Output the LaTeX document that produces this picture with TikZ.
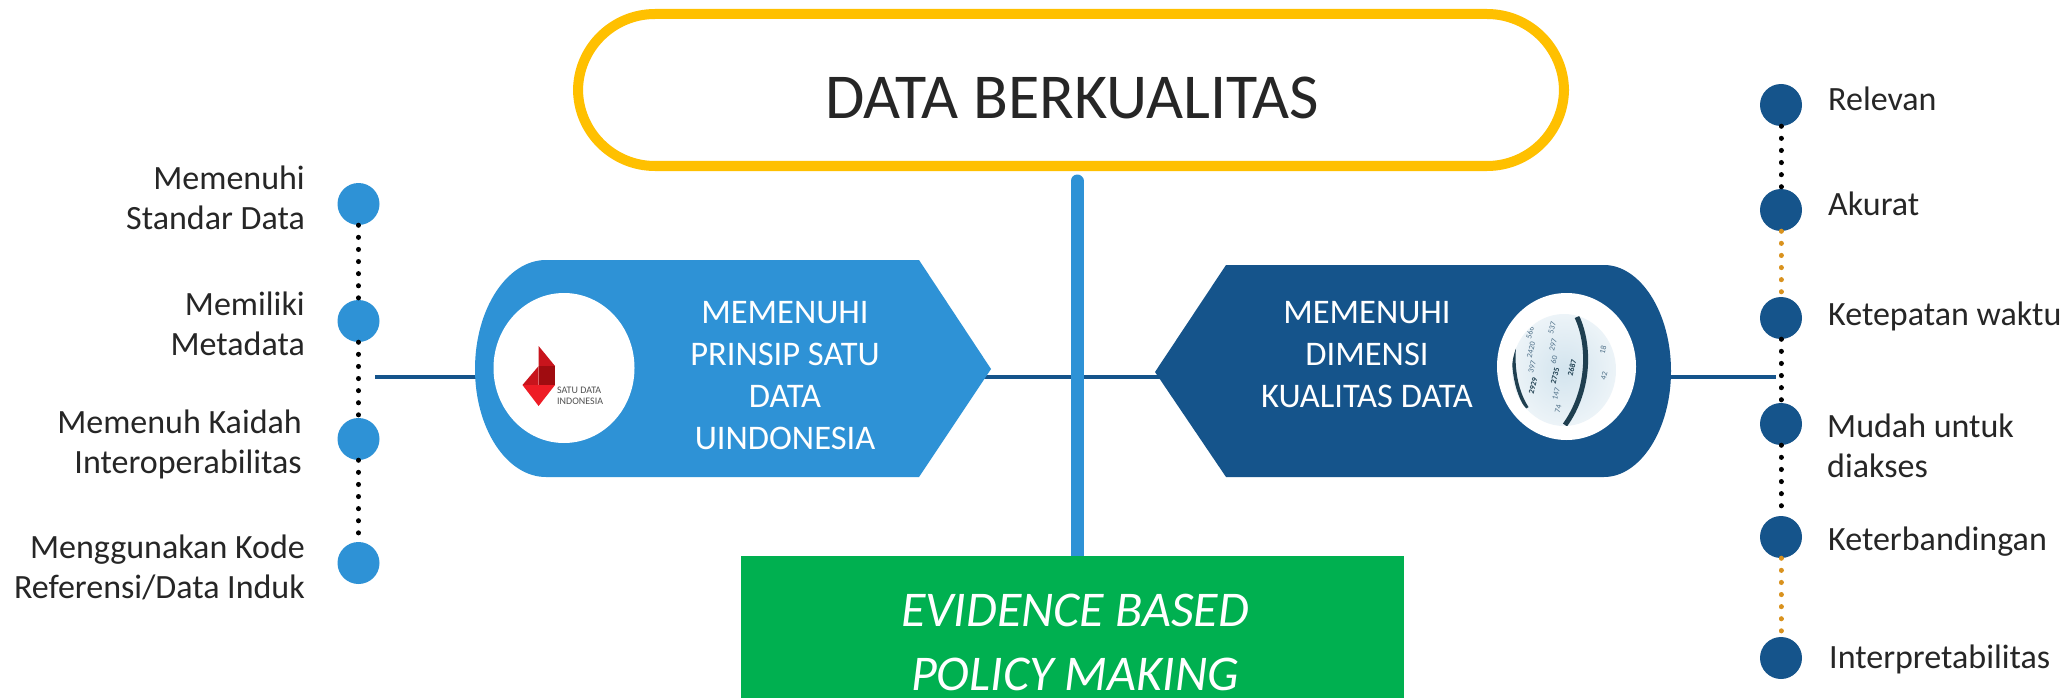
\documentclass[tikz,border=0pt]{standalone}
\usepackage{fontspec}
\usetikzlibrary{shapes.geometric}
\setmainfont{Carlito}
\definecolor{lblue}{HTML}{2E92D6}
\definecolor{dblue}{HTML}{15548B}
\definecolor{gold}{HTML}{FFC000}
\definecolor{grn}{HTML}{00B050}
\definecolor{orng}{HTML}{D9921E}
\definecolor{ink}{HTML}{262626}
\definecolor{photo}{HTML}{D3E4EE}
\definecolor{photod}{HTML}{1F3F50}
\definecolor{photot}{HTML}{4F7088}
\definecolor{redm}{HTML}{C8141C}
\definecolor{redd}{HTML}{A00C10}
\definecolor{redb}{HTML}{EE1C25}
\tikzset{
  x=1pt,y=-1pt,
  ldot/.style={circle,fill=lblue,minimum size=42pt,inner sep=0pt},
  rdot/.style={circle,fill=dblue,minimum size=42pt,inner sep=0pt},
  dotk/.style={line width=5pt,dash pattern=on 0.1pt off 12pt,line cap=round,black},
  doto/.style={line width=5pt,dash pattern=on 0.1pt off 12pt,line cap=round,orng},
  hline/.style={line width=4pt,dblue},
  ltxt/.style={font=\fontsize{34}{40}\selectfont,text=ink,align=right,anchor=east,inner sep=0pt},
  rtxt/.style={font=\fontsize{34}{40}\selectfont,text=ink,align=left,anchor=west,inner sep=0pt},
  wtxt/.style={font=\fontsize{34.5}{42}\selectfont,text=white,align=center,inner sep=0pt},
  ptxt/.style={font=\fontsize{8}{8}\selectfont,text=photot,rotate=76,inner sep=0pt},
  ptxb/.style={font=\fontsize{8}{8}\bfseries\selectfont,text=photod,rotate=76,inner sep=0pt},
}
\begin{document}
\begin{tikzpicture}
\useasboundingbox (0,0) rectangle (2067,698);
\fill[white] (0,0) rectangle (2067,698);
% horizontal line
\coordinate (hl) at (375,377);
\coordinate (hr) at (1776,377);
\draw[hline] (hl) -- (hr);
% vertical bar
\coordinate (bart) at (1077,181);
\coordinate (barb) at (1077,560);
\draw[lblue,line width=13pt,line cap=round] (bart) -- (barb);
% pill
\node[draw=gold,line width=10pt,rounded corners=77pt,minimum width=986pt,minimum height=152pt,fill=white,inner sep=0pt] (title) at (1071,90) {};
\node[font=\fontsize{64}{70}\selectfont,text=ink,inner sep=0pt] (titlet) at (1072,98) {DATA BERKUALITAS};
% green
\node[fill=grn,minimum width=663pt,minimum height=142pt,inner sep=0pt] (ebpm) at (1072.5,627) {};
\node[font=\fontsize{50}{64}\itshape\selectfont,text=white,align=center,inner sep=0pt] (ebt) at (1075,642) {EVIDENCE BASED\\POLICY MAKING};
% left shape
\fill[lblue] (919,260) -- (991,369) -- (919,477) -- (546,477)
  .. controls (507,477) and (475,429) .. (475,369)
  .. controls (475,309) and (507,260) .. (546,260) -- cycle;
% right shape
\fill[dblue] (1226,265) -- (1155,372) -- (1226,477) -- (1604,477)
  .. controls (1640,477) and (1671,430) .. (1671,371)
  .. controls (1671,312) and (1640,265) .. (1604,265) -- cycle;
% left circle and logo
\node[ellipse,fill=white,minimum width=141pt,minimum height=150pt,inner sep=0pt] (lc) at (564,368) {};
\fill[redm] (538.6,346) -- (555,366) -- (538.6,366) -- cycle;
\fill[redm] (538.6,366) -- (522.5,385) -- (538.6,385) -- cycle;
\fill[redd] (538.6,366) -- (555,366) -- (555,385) -- (538.6,385) -- cycle;
\fill[redb] (522.5,385) -- (555,385) -- (538.6,406) -- cycle;
\node[font=\fontsize{10}{10.5}\selectfont,text=ink!80,align=left,anchor=west,inner sep=0pt] (logo) at (557,396) {SATU DATA\\INDONESIA};
% right circle and photo
\node[ellipse,fill=white,minimum width=139pt,minimum height=147pt,inner sep=0pt] (rc) at (1566.5,366.5) {};
\begin{scope}
\clip (1564,370) ellipse [x radius=52,y radius=56];
\shade[inner color=photo,outer color=photo!40] (1510,312) rectangle (1618,428);
\foreach \a/\b/\c in {1530/333/566,1531/350/2420,1532/367/397,1552/328/537,1553/345/297,1554/360/60,1556/394/147,1558/409/74,1603/350/18,1604/376/42}
  \node[ptxt] at (\a,\b) {\c};
\foreach \a/\b/\c in {1533/386/2929,1555/376/2735,1572/368/2687}
  \node[ptxb] at (\a,\b) {\c};
\draw[photod,line width=3.5pt] (1518,328) .. controls (1511,350) and (1512,385) .. (1527,408);
\draw[photod,line width=5pt] (1577,317) .. controls (1590,345) and (1590,390) .. (1565,425);
\end{scope}
% box text
\node[wtxt] (lt) at (785,376) {MEMENUHI\\PRINSIP SATU\\DATA\\UINDONESIA};
\node[wtxt] (rt) at (1367,355) {MEMENUHI\\DIMENSI\\KUALITAS DATA};
% left dots
\node[ldot] (a1) at (358.5,204) {};
\node[ldot] (a2) at (358.5,321) {};
\node[ldot] (a3) at (358.5,439) {};
\node[ldot] (a4) at (358.5,563) {};
\draw[dotk] (a1) -- (a2);
\draw[dotk] (a2) -- (a3);
\draw[dotk] (a3) -- (a4);
\node[ltxt] (ta1) at (305,198) {Memenuhi\\Standar Data};
\node[ltxt] (ta2) at (305,324) {Memiliki\\Metadata};
\node[ltxt] (ta3) at (302,444) {Memenuh Kaidah\\Interoperabilitas};
\node[ltxt] (ta4) at (305,567) {Menggunakan Kode\\Referensi/Data Induk};
% right dots
\node[rdot] (b1) at (1781,105) {};
\node[rdot] (b2) at (1781,210) {};
\node[rdot] (b3) at (1781,318) {};
\node[rdot] (b4) at (1781,424) {};
\node[rdot] (b5) at (1781,537) {};
\node[rdot] (b6) at (1781,658) {};
\draw[dotk] (b1) -- (b2);
\draw[doto] (b2) -- (b3);
\draw[dotk] (b3) -- (b4);
\draw[dotk] (b4) -- (b5);
\draw[doto] (b5) -- (b6);
\node[rtxt] (tb1) at (1828,99) {Relevan};
\node[rtxt] (tb2) at (1828,204) {Akurat};
\node[rtxt] (tb3) at (1828,316) {Ketepatan waktu};
\node[rtxt] (tb4) at (1827,446) {Mudah untuk\\diakses};
\node[rtxt] (tb5) at (1828,542) {Keterbandingan};
\node[rtxt] (tb6) at (1829,659) {Interpretabilitas};
\end{tikzpicture}
\end{document}
